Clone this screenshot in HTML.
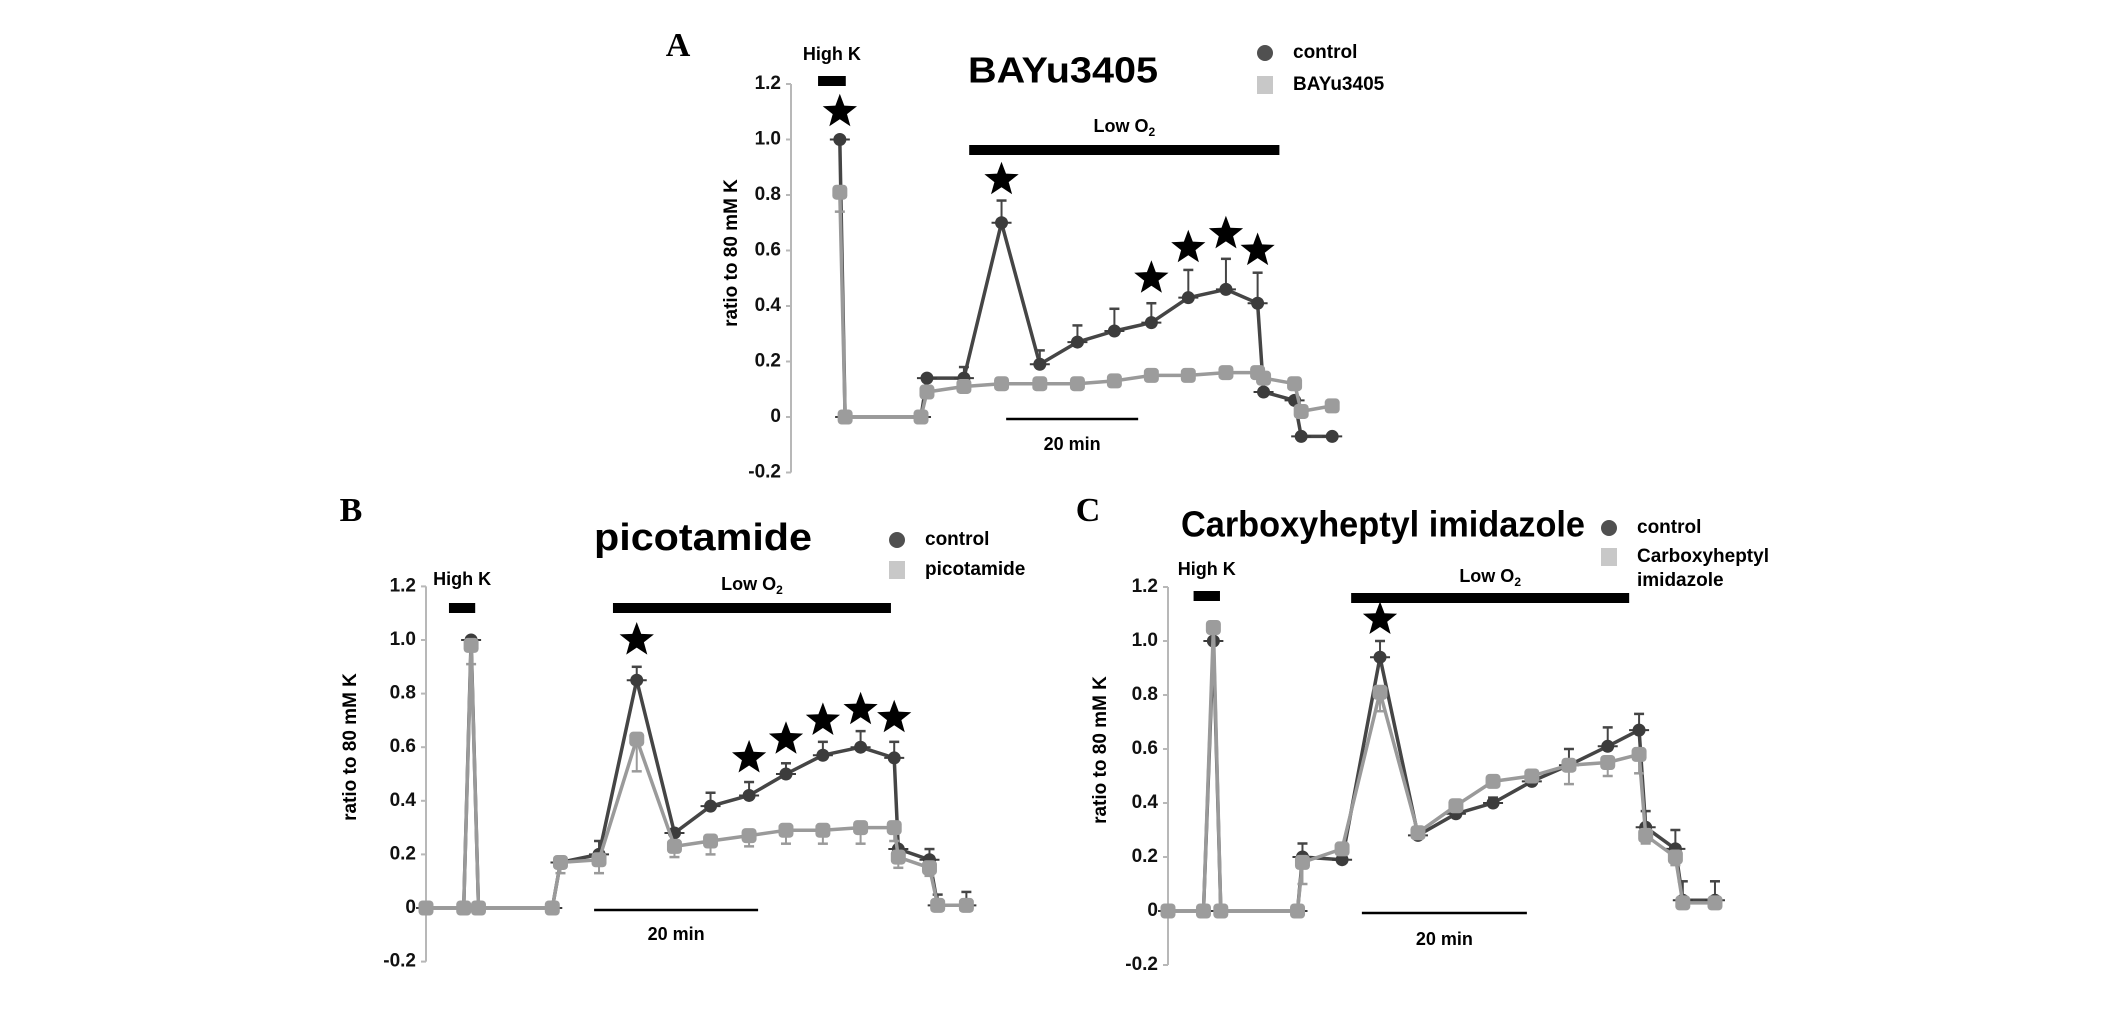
<!DOCTYPE html>
<html><head><meta charset="utf-8"><style>
html,body{margin:0;padding:0;background:#fff;}
svg{display:block;}
text{font-family:"Liberation Sans",sans-serif;}
</style></head><body>
<svg id="fig" width="2126" height="1019" viewBox="0 0 2126 1019"></svg>
<script>
// Panel A (BAYu3405)
const aTime=[7.4,8.2,19.7,20.6,26.2,31.9,37.7,43.4,49,54.6,60.2,65.9,70.7,71.6,76.3,77.3,82];
const aCtrl=[1.0,0,0,0.14,0.14,0.70,0.19,0.27,0.31,0.34,0.43,0.46,0.41,0.09,0.06,-0.07,-0.07];
const aCtrlErr=[0,0,0,0,0.04,0.08,0.05,0.06,0.08,0.07,0.10,0.11,0.11,0,0,0,0];
const aDrug=[0.81,0,0,0.09,0.11,0.12,0.12,0.12,0.13,0.15,0.15,0.16,0.16,0.14,0.12,0.02,0.04];
const aDrugErr=[0.07,0,0,0,0,0,0,0,0,0,0,0,0,0,0,0,0];
const aStarT=[7.4,31.9,54.6,60.2,65.9,70.7];
const aStarY=[1.10,0.855,0.50,0.61,0.66,0.60];
// Panel B (picotamide)
const bTime=[0,4.6,5.5,6.4,15.4,16.4,21.1,25.7,30.3,34.7,39.4,43.9,48.4,53.0,57.1,57.6,61.4,62.4,65.9];
const bCtrl=[0,0,1.0,0,0,0.17,0.20,0.85,0.28,0.38,0.42,0.50,0.57,0.60,0.56,0.22,0.18,0.01,0.01];
const bCtrlErr=[0,0,0,0,0,0,0.05,0.05,0,0.05,0.05,0.04,0.05,0.06,0.06,0,0.04,0.04,0.05];
const bDrug=[0,0,0.98,0,0,0.17,0.18,0.63,0.23,0.25,0.27,0.29,0.29,0.30,0.30,0.19,0.15,0.01,0.01];
const bDrugErr=[0,0,0.07,0,0,0.04,0.05,0.12,0.04,0.05,0.04,0.05,0.05,0.06,0.05,0.04,0.03,0,0];
const bStarT=[25.7,39.4,43.9,48.4,53.0,57.1];
const bStarY=[1.0,0.56,0.63,0.70,0.74,0.71];
// Panel C (Carboxyheptyl imidazole)
const cTime=[0,4.3,5.5,6.4,15.7,16.3,21.1,25.7,30.3,34.9,39.4,44.1,48.6,53.3,57.1,57.9,61.5,62.4,66.3];
const cCtrl=[0,0,1.0,0,0,0.20,0.19,0.94,0.28,0.36,0.40,0.48,0.54,0.61,0.67,0.31,0.23,0.04,0.04];
const cCtrlErr=[0,0,0,0,0,0.05,0.02,0.06,0.02,0.02,0.02,0.02,0.06,0.07,0.06,0.06,0.07,0.07,0.07];
const cDrug=[0,0,1.05,0,0,0.18,0.23,0.81,0.29,0.39,0.48,0.50,0.54,0.55,0.58,0.28,0.20,0.03,0.03];
const cDrugErr=[0,0,0,0,0,0.08,0.02,0.07,0.02,0.02,0.02,0.02,0.07,0.05,0.07,0.03,0.03,0.02,0.02];
const cStarT=[25.7];
const cStarY=[1.08];
const yTicks=[-0.2,0,0.2,0.4,0.6,0.8,1.0,1.2];
const yTickLabels=["-0.2","0","0.2","0.4","0.6","0.8","1.0","1.2"];

const NS="http://www.w3.org/2000/svg";
const svg=document.getElementById('fig');
function mk(tag,attrs,parent,txt){const e=document.createElementNS(NS,tag);for(const k in attrs)e.setAttribute(k,attrs[k]);if(txt!==undefined)e.textContent=txt;(parent||svg).appendChild(e);return e;}
function starPts(cx,cy,r){let p=[];for(let i=0;i<10;i++){const rr=i%2?r*0.42:r;const a=-Math.PI/2+i*Math.PI/5;p.push((cx+rr*Math.cos(a)).toFixed(1)+','+(cy+rr*Math.sin(a)).toFixed(1));}return p.join(' ');}

function panel(o){
  const g=mk('g',{});
  
  
  const X=t=>o.x0+t*o.ppm;
  const Y=v=>o.y0-v*o.ppu;
  let t=mk('text',{x:o.letter[0],y:o.letter[1],style:'font-family:"Liberation Serif",serif;font-weight:bold;font-size:34px','text-anchor':'middle','dominant-baseline':'middle'},g,o.id.toUpperCase());
  
  let ax=mk('g',{},g);
  mk('line',{x1:o.x0,x2:o.x0,y1:Y(1.2),y2:Y(-0.2),stroke:'#b8b8b8','stroke-width':2},ax);
  yTicks.forEach((v,i)=>{
    mk('line',{x1:o.x0-5,x2:o.x0,y1:Y(v),y2:Y(v),stroke:'#b8b8b8','stroke-width':2},ax);
    const tl=mk('text',{x:o.x0-10,y:Y(v),'font-size':19,'font-weight':'bold','text-anchor':'end','dominant-baseline':'middle',fill:'#111'},ax,yTickLabels[i]);
    
  });
  t=mk('text',{x:0,y:0,'font-size':19,'font-weight':'bold','text-anchor':'middle','dominant-baseline':'middle',transform:`translate(${o.ytitle[0]},${o.ytitle[1]}) rotate(-90)`},g,'ratio to 80 mM K');
  
  t=mk('text',{x:o.title[0],y:o.title[1],'font-size':o.titleSize,'font-weight':'bold','text-anchor':'middle','dominant-baseline':'middle',textLength:o.titleW,lengthAdjust:'spacingAndGlyphs'},g,o.titleText);
  
  let lg=mk('g',{},g);
  mk('circle',{cx:o.leg[0],cy:o.leg[1],r:8,fill:'#505050'},lg);
  t=mk('text',{x:o.leg[0]+28,y:o.leg[1],'font-size':19,'font-weight':'bold','dominant-baseline':'middle'},lg,'control');
  
  mk('rect',{x:o.leg[0]-8,y:o.leg[2]-9,width:16,height:18,fill:'#c8c8c8'},lg);
  o.legLabel.forEach((s,i)=>{
    t=mk('text',{x:o.leg[0]+28,y:o.leg[2]+i*24,'font-size':19,'font-weight':'bold','dominant-baseline':'middle'},lg,s);
    
  });
  t=mk('text',{x:(X(o.hk[0])+X(o.hk[1]))/2,y:o.hk[3],'font-size':18,'font-weight':'bold','text-anchor':'middle','dominant-baseline':'middle'},g,'High K');
  
  let r=mk('rect',{x:X(o.hk[0]),y:o.hk[2]-5,width:X(o.hk[1])-X(o.hk[0]),height:10,fill:'#000'},g);
  
  t=mk('text',{x:(X(o.lo[0])+X(o.lo[1]))/2,y:o.lo[3],'font-size':18,'font-weight':'bold','text-anchor':'middle','dominant-baseline':'middle'},g);
  
  t.appendChild(document.createTextNode('Low O'));
  mk('tspan',{'font-size':12,dy:6},t,'2');
  r=mk('rect',{x:X(o.lo[0]),y:o.lo[2]-5,width:X(o.lo[1])-X(o.lo[0]),height:10,fill:'#000'},g);
  
  r=mk('line',{x1:X(o.sb[0]),x2:X(o.sb[0]+20),y1:o.sb[1],y2:o.sb[1],stroke:'#000','stroke-width':2.5},g);
  
  t=mk('text',{x:X(o.sb[0]+10),y:o.sb[2],'font-size':18,'font-weight':'bold','text-anchor':'middle','dominant-baseline':'middle'},g,'20 min');
  
  function series(vals,errs,dir,col,lineCol,shape,name){
    const sg=mk('g',{},g);
    vals.forEach((v,i)=>{ if(errs[i]>0){
      const y2=Y(v+dir*errs[i]);
      mk('line',{x1:X(o.time[i]),x2:X(o.time[i]),y1:Y(v),y2:y2,stroke:lineCol,'stroke-width':2},sg);
      mk('line',{x1:X(o.time[i])-5,x2:X(o.time[i])+5,y1:y2,y2:y2,stroke:lineCol,'stroke-width':2.5},sg);
    }});
    const pts=vals.map((v,i)=>X(o.time[i]).toFixed(1)+','+Y(v).toFixed(1)).join(' ');
    const pl=mk('polyline',{points:pts,fill:'none',stroke:lineCol,'stroke-width':3.5,'stroke-linejoin':'round'},sg);
    
    vals.forEach((v,i)=>{
      const cx=X(o.time[i]),cy=Y(v);
      let m;
      if(shape==='c'){m=mk('circle',{cx:cx,cy:cy,r:6.5,fill:col},sg);
        mk('line',{x1:cx-10,x2:cx+10,y1:cy,y2:cy,stroke:col,'stroke-width':2},sg);}
      else m=mk('rect',{x:cx-7.5,y:cy-7.5,width:15,height:15,rx:4,fill:col},sg);
      
    });
  }
  series(o.ctrl,o.ctrlErr,1,'#3c3c3c','#454545','c','control-series');
  series(o.drug,o.drugErr,-1,'#9c9c9c','#9a9a9a','s','drug-series');
  o.starT.forEach((st,i)=>{
    const s=mk('polygon',{points:starPts(X(st),Y(o.starY[i]),18),fill:'#000'},g);
    
  });
}

panel({id:'a',x0:791,y0:417,ppm:6.6,ppu:277.5,time:aTime,ctrl:aCtrl,ctrlErr:aCtrlErr,drug:aDrug,drugErr:aDrugErr,starT:aStarT,starY:aStarY,
  letter:[678,48],ytitle:[732,253],title:[1063,73],titleSize:36,titleW:190,titleText:'BAYu3405',
  leg:[1265,53,85],legLabel:['BAYu3405'],hk:[4.1,8.3,81,55],lo:[27,74,150,127],sb:[32.6,419,445]});
panel({id:'b',x0:426,y0:908,ppm:8.2,ppu:268,time:bTime,ctrl:bCtrl,ctrlErr:bCtrlErr,drug:bDrug,drugErr:bDrugErr,starT:bStarT,starY:bStarY,
  letter:[351,513],ytitle:[351,747],title:[703,540],titleSize:38,titleW:218,titleText:'picotamide',
  leg:[897,540,570],legLabel:['picotamide'],hk:[2.8,6.0,608,580],lo:[22.8,56.7,608,585],sb:[20.5,910,935]});
panel({id:'c',x0:1168,y0:911,ppm:8.25,ppu:270,time:cTime,ctrl:cCtrl,ctrlErr:cCtrlErr,drug:cDrug,drugErr:cDrugErr,starT:cStarT,starY:cStarY,
  letter:[1088,513],ytitle:[1101,750],title:[1383,527],titleSize:36,titleW:404,titleText:'Carboxyheptyl imidazole',
  leg:[1609,528,557],legLabel:['Carboxyheptyl','imidazole'],hk:[3.1,6.3,596,570],lo:[22.2,55.9,598,577],sb:[23.5,913,940]});
</script>
</body></html>
